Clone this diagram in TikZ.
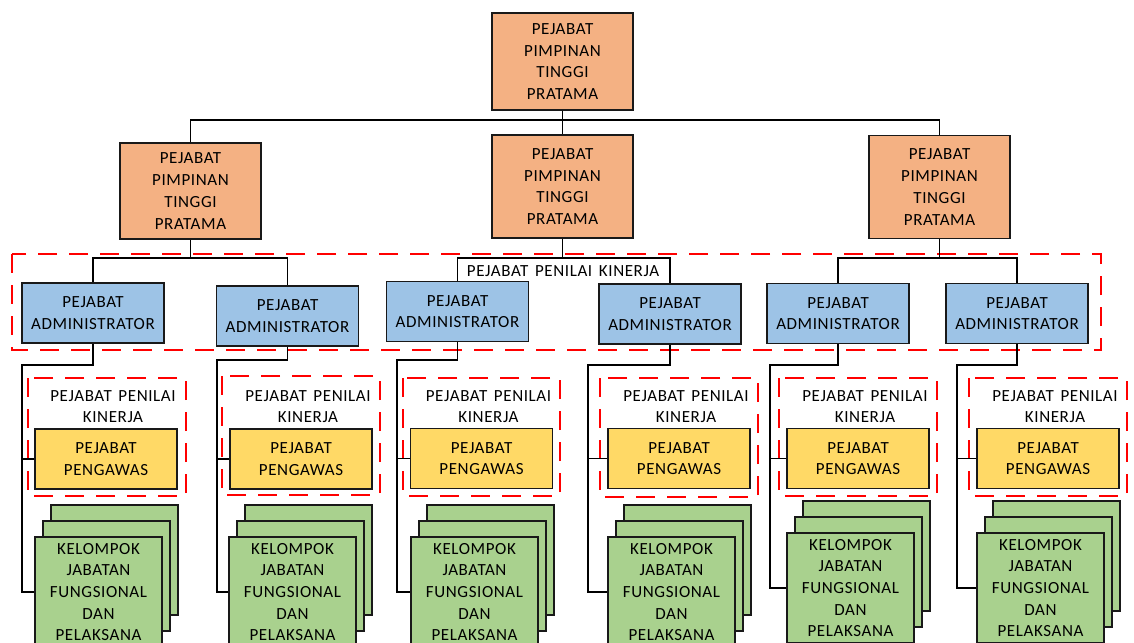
\documentclass[tikz,border=0pt]{standalone}
\usepackage{fontspec}
\setmainfont{Carlito}[LetterSpace=3.5,WordSpace=1.5]
\definecolor{orng}{HTML}{F4B183}
\definecolor{blu}{HTML}{9DC3E6}
\definecolor{yel}{HTML}{FFD966}
\definecolor{grn}{HTML}{A9D18E}
\definecolor{redd}{HTML}{FF0000}
\tikzset{
  bx/.style 2 args={draw=black!90, line width=1.2pt, minimum width=#1, minimum height=#2, inner sep=0pt, align=center,
     font=\fontsize{17}{21.7}\selectfont},
  orbox/.style={bx={141pt}{97pt}, fill=orng},
  adbox/.style={bx={142pt}{60pt}, fill=blu},
  pgbox/.style={bx={142pt}{60pt}, fill=yel},
  gnbox/.style={bx={127pt}{110pt}, fill=grn},
  conn/.style={draw=black, line width=1.3pt},
  red dashed box/.style={draw=redd, line width=2.6pt, dash pattern=on 19pt off 12pt},
  lbl/.style={inner sep=0pt, align=center, font=\fontsize{17}{21.7}\selectfont},
}
\begin{document}
\begin{tikzpicture}[x=1pt,y=-1pt]
\clip (0,0) rectangle (1134,642);
\fill[white] (0,0) rectangle (1134,642);

% level 1 and 2
\node[orbox] (top) at (562.5,61.5) {PEJABAT\\PIMPINAN\\TINGGI\\PRATAMA};
\node[orbox, minimum height=96pt] (la) at (190.5,191) {PEJABAT\\PIMPINAN\\TINGGI\\PRATAMA};
\node[orbox, minimum height=103pt] (lb) at (562.5,186.5) {PEJABAT\\PIMPINAN\\TINGGI\\PRATAMA};
\node[orbox, minimum height=103pt] (lc) at (939.5,187) {PEJABAT\\PIMPINAN\\TINGGI\\PRATAMA};

\coordinate (b0) at (562.5,120);
\draw[conn] (top.south) -- (lb.north);
\draw[conn] (la.north) |- (b0) -| (lc.north);

% big dashed group
\draw[red dashed box] (12,254) rectangle (1101,350);
\node[lbl] (bigl) at (563,271) {PEJABAT PENILAI KINERJA};

% admin
\node[adbox] (a1) at (93,313) {PEJABAT\\ADMINISTRATOR};
\node[adbox] (a2) at (287.5,316) {PEJABAT\\ADMINISTRATOR};
\node[adbox] (a3) at (457.5,311.5) {PEJABAT\\ADMINISTRATOR};
\node[adbox] (a4) at (670,314) {PEJABAT\\ADMINISTRATOR};
\node[adbox] (a5) at (838,313.5) {PEJABAT\\ADMINISTRATOR};
\node[adbox] (a6) at (1017,313.5) {PEJABAT\\ADMINISTRATOR};

\coordinate (bl) at (190.5,258);
\coordinate (bm) at (562.5,258);
\coordinate (br) at (939.5,258);
\draw[conn] (la.south) -- (bl);
\draw[conn] (lb.south) -- (bm);
\draw[conn] (lc.south) -- (br);
\draw[conn] (a1.north) |- (bl) -| (a2.north);
\draw[conn] (a3.north) |- (bm) -| (a4.north);
\draw[conn] (a5.north) |- (br) -| (a6.north);

% columns
\foreach \i/\px/\py/\gx/\gy/\kx/\ky/\dl/\dt/\dr/\db in {
  1/106/459/98.5/592/22/365/28/378/186/496,
  2/301/459/292.5/592/217/360/222/376/380/495,
  3/481.5/458.5/474.5/592/397/360/403/378/560/496,
  4/679/458.5/671.5/592/588/365/600/378/758/497,
  5/858/458.5/850.5/588/770/365/779/378/937/496,
  6/1048/458.5/1040.5/588/957/365/969/378/1127/496}{
  \draw[red dashed box] (\dl,\dt) rectangle (\dr,\db);
  \node[lbl] (l\i) at ({\px+7},406.5) {PEJABAT PENILAI\\KINERJA};
  \node[pgbox] (p\i) at (\px,\py) {PEJABAT\\PENGAWAS};
  \node[gnbox] (gb\i) at ({\gx+16},{\gy-32}) {};
  \node[gnbox] (gm\i) at ({\gx+8},{\gy-16}) {};
  \node[gnbox] (g\i) at (\gx,\gy) {KELOMPOK\\JABATAN\\FUNGSIONAL\\DAN\\PELAKSANA};
  \coordinate (k\i) at (\kx,\ky);
  \draw[conn] (a\i.south) |- (k\i) |- (g\i.west);
  \draw[conn] (k\i) |- (p\i.west);
}
\end{tikzpicture}
\end{document}
